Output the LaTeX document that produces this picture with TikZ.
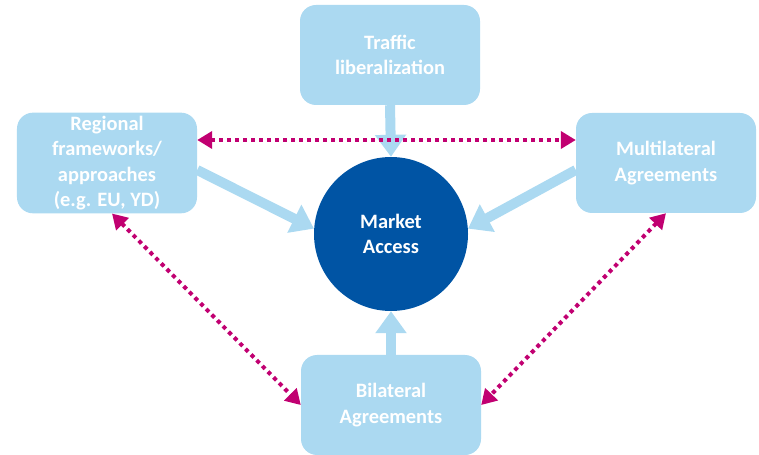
\documentclass[tikz,border=0pt]{standalone}
\usepackage{fontspec}
\setmainfont{Carlito}
\usetikzlibrary{arrows.meta}

\definecolor{boxblue}{RGB}{171,217,241}
\definecolor{corenavy}{RGB}{0,84,164}
\definecolor{linkpink}{RGB}{193,0,113}

\tikzset{
  pillar/.style={rectangle, rounded corners=16bp, fill=boxblue, text=white,
    minimum width=180bp, minimum height=100bp, align=center,
    font=\bfseries\fontsize{20.5}{25.5}\selectfont},
  core/.style={circle, fill=corenavy, text=white, minimum size=154bp,
    align=center, font=\bfseries\fontsize{20.5}{25.5}\selectfont},
  feed/.style={boxblue, line width=10bp,
    -{Triangle[width=30bp,length=22bp]}},
  link/.style={linkpink, line width=4bp, dash pattern=on 4bp off 4bp,
    {Triangle[width=17bp,length=15bp]}-{Triangle[width=17bp,length=15bp]}}
}

\begin{document}
\begin{tikzpicture}[x=1bp,y=-1bp]
        \useasboundingbox (0,0) rectangle (759,455);
        % Draw the centre and the four boxes
        \node[core] (mkt) at (391,234) {Market\\Access};
        \node[pillar] (trf) at (390,55) {Traffic\\liberalization};
        \node[pillar] (reg) at (107,163) {Regional\\frameworks/\\approaches\\(e.g. EU, YD)};
        \node[pillar] (mul) at (666,163) {Multilateral\\Agreements};
        \node[pillar] (bil) at (391,405) {Bilateral\\Agreements};
        % Draw feeds into the centre
        \draw[feed] (trf.south) -- (mkt.north);
        \draw[feed] (bil.north) -- (mkt.south);
        \draw[feed] ([yshift=-7bp]reg.east) -- (mkt.176);
        \draw[feed] ([yshift=-7bp]mul.west) -- (mkt.4);
        % Draw dotted links between the boxes
        \draw[link] ([yshift=23bp]reg.east) -- ([yshift=23bp]mul.west);
        \draw[link] ([xshift=5bp]reg.south) -- (bil.west);
        \draw[link] (mul.south) -- (bil.east);
    \end{tikzpicture}
\end{document}
